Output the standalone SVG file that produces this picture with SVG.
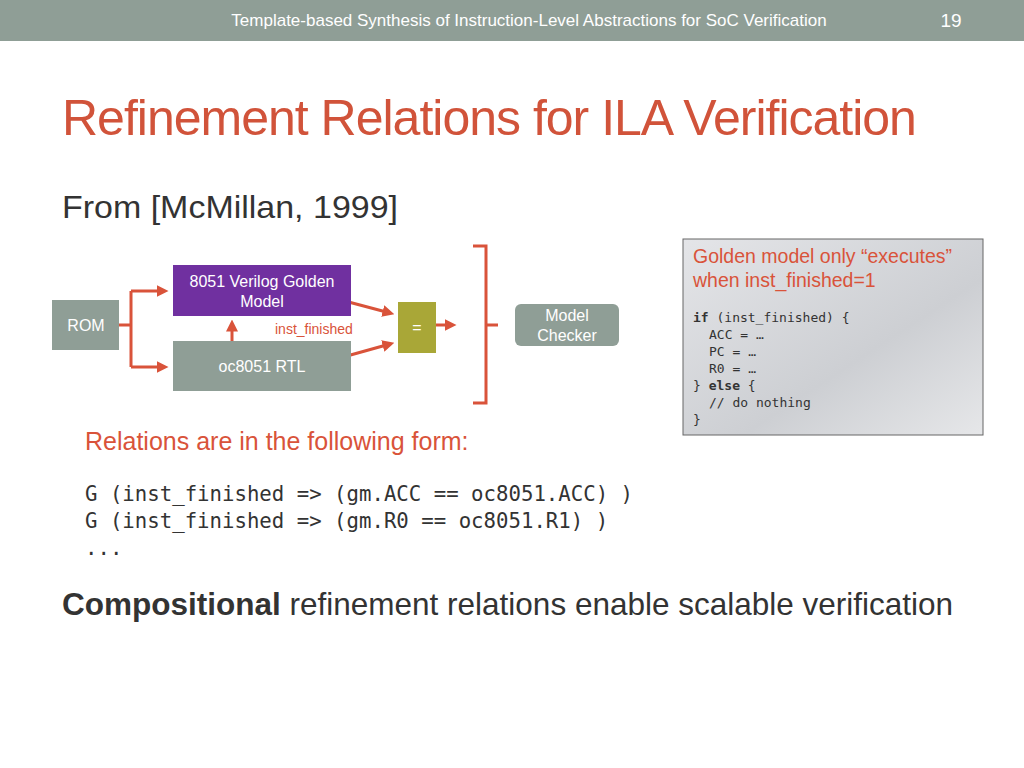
<svg xmlns="http://www.w3.org/2000/svg" width="1024" height="768" viewBox="0 0 1024 768">
<style>
.s{font-family:"Liberation Sans",Arial,sans-serif}
.m{font-family:"DejaVu Sans Mono","Liberation Mono",monospace}
.c{stroke:#d9533a;stroke-width:3;fill:none}
.w{fill:#fff;font-size:16px;text-anchor:middle}
</style>
<defs>
<marker id="a" markerWidth="4" markerHeight="4" refX="2.5" refY="2" orient="auto"><path d="M0,0L4,2L0,4z" fill="#d9533a"/></marker>
<linearGradient id="g" x1="0" y1="0" x2="1" y2="1"><stop offset="0" stop-color="#e4e5e8"/><stop offset="0.6" stop-color="#cdcfd3"/><stop offset="1" stop-color="#e6e7e9"/></linearGradient>
</defs>
<rect width="1024" height="768" fill="#fff"/>
<rect width="1024" height="41" fill="#8f9e96"/>
<text class="s" x="529" y="26" font-size="17" fill="#fff" text-anchor="middle">Template-based Synthesis of Instruction-Level Abstractions for SoC Verification</text>
<text class="s" x="951" y="27" font-size="19" fill="#fff" text-anchor="middle">19</text>
<text class="s" x="62" y="135" font-size="50" fill="#d1533a" letter-spacing="-1">Refinement Relations for ILA Verification</text>
<text class="s" x="62" y="218" font-size="32" fill="#333" textLength="336" lengthAdjust="spacingAndGlyphs">From [McMillan, 1999]</text>
<g id="connectors">
<path class="c" d="M119,325H131M131,291V367M131,291H164" marker-end="url(#a)"/>
<path class="c" d="M131,367H164" marker-end="url(#a)"/>
<path class="c" d="M311,292L390,313" marker-end="url(#a)"/>
<path class="c" d="M311,366L390,344" marker-end="url(#a)"/>
<path class="c" d="M436,325H452" marker-end="url(#a)"/>
<path class="c" d="M232,341V324" marker-end="url(#a)"/>
<path class="c" d="M473,246H486V403H473M486,325H498"/>
</g>
<g id="rom"><rect x="52" y="300" width="67" height="50" fill="#8f9e96"/><text class="s w" x="86" y="331">ROM</text></g>
<g id="golden"><rect x="173" y="265" width="178" height="51" fill="#7030a0"/><text class="s w" x="262" y="287">8051 Verilog Golden</text><text class="s w" x="262" y="307">Model</text></g>
<g id="rtl"><rect x="173" y="341" width="178" height="50" fill="#8f9e96"/><text class="s w" x="262" y="372">oc8051 RTL</text></g>
<text class="s" x="275" y="334" font-size="14" fill="#d9533a">inst_finished</text>
<g id="eq"><rect x="398" y="302" width="38" height="51" fill="#a9a737"/><text class="s w" x="417" y="333">=</text></g>
<g id="mc"><rect x="515" y="304" width="104" height="42" rx="6" fill="#8f9e96"/><text class="s w" x="567" y="321">Model</text><text class="s w" x="567" y="341">Checker</text></g>
<g id="info">
<rect x="683" y="239" width="300" height="196" fill="url(#g)" stroke="#666" stroke-width="1"/>
<text class="s" x="693" y="263" font-size="19.5" fill="#d9533a">Golden model only “executes”</text>
<text class="s" x="693" y="287" font-size="19.5" fill="#d9533a">when inst_finished=1</text>
<g class="m" font-size="13" fill="#333">
<text x="693" y="322"><tspan font-weight="bold">if</tspan> (inst_finished) {</text>
<text x="709" y="339">ACC = …</text>
<text x="709" y="356">PC = …</text>
<text x="709" y="373">R0 = …</text>
<text x="693" y="390">} <tspan font-weight="bold">else</tspan> {</text>
<text x="709" y="407">// do nothing</text>
<text x="693" y="424">}</text>
</g>
</g>
<text class="s" x="85" y="450" font-size="25" fill="#d9533a">Relations are in the following form:</text>
<g class="m" font-size="20.7" fill="#333">
<text x="85" y="501">G (inst_finished =&gt; (gm.ACC == oc8051.ACC) )</text>
<text x="85" y="528">G (inst_finished =&gt; (gm.R0 == oc8051.R1) )</text>
<text x="85" y="555">...</text>
</g>
<text class="s" x="62" y="615" font-size="31.5" fill="#333"><tspan font-weight="bold">Compositional</tspan> refinement  relations enable scalable verification</text>
</svg>
